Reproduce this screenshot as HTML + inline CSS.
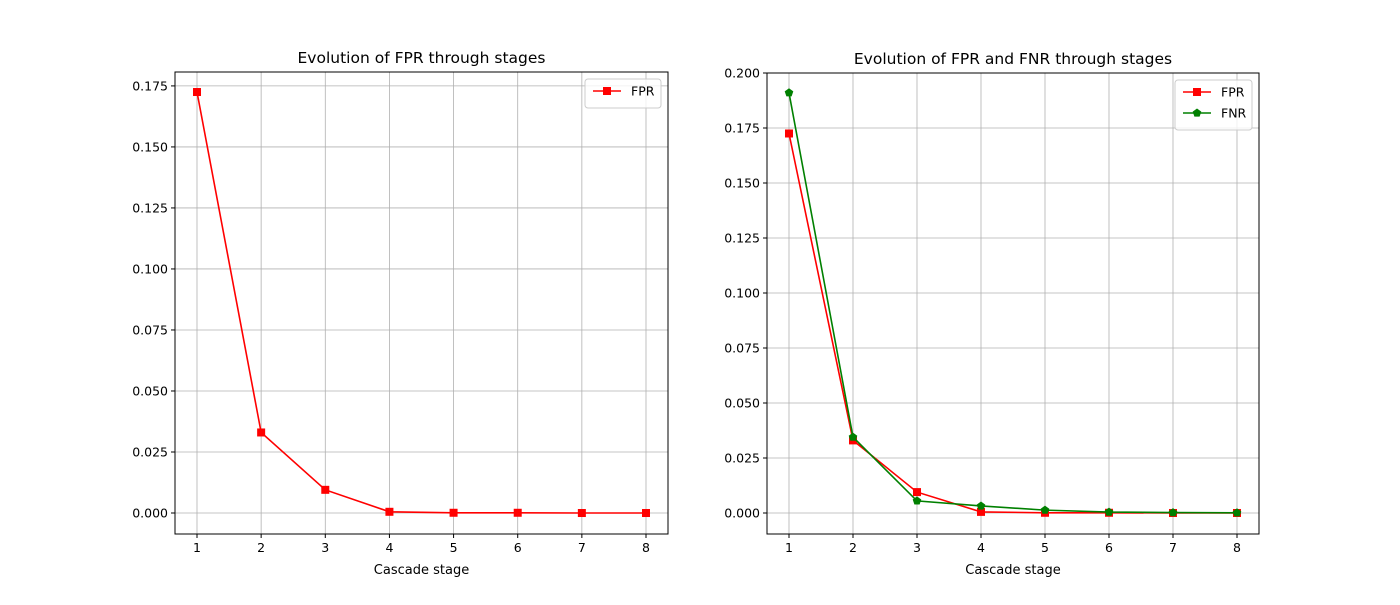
<!DOCTYPE html>
<html><head><meta charset="utf-8"><style>
body{margin:0;background:#fff;font-family:"Liberation Sans","DejaVu Sans",sans-serif;}
svg text{font-family:"DejaVu Sans","Liberation Sans",sans-serif;}
</style></head><body>
<svg id="fig" width="1400" height="600" xmlns="http://www.w3.org/2000/svg"></svg>
<script>
const stages=[1,2,3,4,5,6,7,8];
const fprValues=[0.1725,0.033,0.0095,0.0005,0.0001,0.0001,0.0,0.0];
const fnrValues=[0.191,0.0345,0.0055,0.0032,0.0013,0.0004,0.0002,0.0001];
const leftYTicks=[0,0.025,0.05,0.075,0.1,0.125,0.15,0.175];
const leftYLabels=["0.000","0.025","0.050","0.075","0.100","0.125","0.150","0.175"];
const rightYTicks=[0,0.025,0.05,0.075,0.1,0.125,0.15,0.175,0.2];
const rightYLabels=["0.000","0.025","0.050","0.075","0.100","0.125","0.150","0.175","0.200"];
const NS="http://www.w3.org/2000/svg";
const svg=document.getElementById('fig');
function mk(tag,attrs,parent){const e=document.createElementNS(NS,tag);for(const k in attrs)e.setAttribute(k,attrs[k]);(parent||svg).appendChild(e);return e;}
function marker(g,type,x,y,color){
  let m;
  if(type==='s'){m=mk('rect',{x:x-4,y:y-4,width:8,height:8,fill:color},g);}
  else{const r=4.5,pts=[];for(let i=0;i<5;i++){const a=-Math.PI/2+i*2*Math.PI/5;pts.push((x+r*Math.cos(a)).toFixed(1)+','+(y+r*Math.sin(a)).toFixed(1));}
  m=mk('polygon',{points:pts.join(' '),fill:color},g);}
  return m;
}
function panel(id,L,R,T,B,ymin,ymax,yt,yl,title,series,legend){
  const g=mk('g',{});
  
  
  const xs=v=>L+22+(v-1)*(R-L-44)/7;
  const ys=v=>B-(v-ymin)/(ymax-ymin)*(B-T);
  // grid
  stages.forEach(s=>{const l=mk('line',{x1:xs(s),x2:xs(s),y1:T,y2:B,stroke:'#b0b0b0','stroke-width':0.8},g);
    mk('line',{x1:xs(s),x2:xs(s),y1:B,y2:B+4,stroke:'#000'},g);
    const t=mk('text',{x:xs(s),y:B+18,'text-anchor':'middle','font-size':12.5},g);t.textContent=s;});
  yt.forEach((v,i)=>{const l=mk('line',{x1:L,x2:R,y1:ys(v),y2:ys(v),stroke:'#b0b0b0','stroke-width':0.8},g);
    mk('line',{x1:L-4,x2:L,y1:ys(v),y2:ys(v),stroke:'#000'},g);
    const t=mk('text',{x:L-7,y:ys(v)+4.5,'text-anchor':'end','font-size':12.5},g);t.textContent=yl[i];});
  series.forEach(se=>{
    const p=mk('polyline',{points:se.vals.map((v,i)=>xs(stages[i])+','+ys(v)).join(' '),fill:'none',stroke:se.color,'stroke-width':1.6},g);
    
    se.vals.forEach((v,i)=>{const m=marker(g,se.m,xs(stages[i]),ys(v),se.color);});
  });
  const fr=mk('rect',{x:L,y:T,width:R-L,height:B-T,fill:'none',stroke:'#000','stroke-width':1},g);
  
  const tt=mk('text',{x:(L+R)/2,y:T-9,'text-anchor':'middle','font-size':15.5},g);tt.textContent=title;
  
  const xl=mk('text',{x:(L+R)/2,y:B+40,'text-anchor':'middle','font-size':13},g);xl.textContent='Cascade stage';
  
  // legend
  const lg=mk('g',{},g);
  const lw=legend.w,lh=8+series.length*21;
  mk('rect',{x:R-lw-7,y:T+7,width:lw,height:lh,fill:'#fff','fill-opacity':0.8,stroke:'#ccc',rx:3},lg);
  series.forEach((se,i)=>{const y=T+19+i*21,x0=R-lw+1;
    const e=mk('g',{},lg);
    mk('line',{x1:x0,x2:x0+28,y1:y,y2:y,stroke:se.color,'stroke-width':1.6},e);
    marker(e,se.m,x0+14,y,se.color);
    const t=mk('text',{x:x0+38,y:y+4.5,'font-size':12.5},e);t.textContent=se.label;});
}
panel('left-chart',175,668,72,534,-0.0086,0.1807,leftYTicks,leftYLabels,'Evolution of FPR through stages',
  [{name:'fpr',label:'FPR',vals:fprValues,color:'#ff0000',m:'s'}],{w:76});
panel('right-chart',767,1259,73,534,-0.00955,0.2,rightYTicks,rightYLabels,'Evolution of FPR and FNR through stages',
  [{name:'fpr',label:'FPR',vals:fprValues,color:'#ff0000',m:'s'},{name:'fnr',label:'FNR',vals:fnrValues,color:'#008000',m:'p'}],{w:77});
</script>
</body></html>
